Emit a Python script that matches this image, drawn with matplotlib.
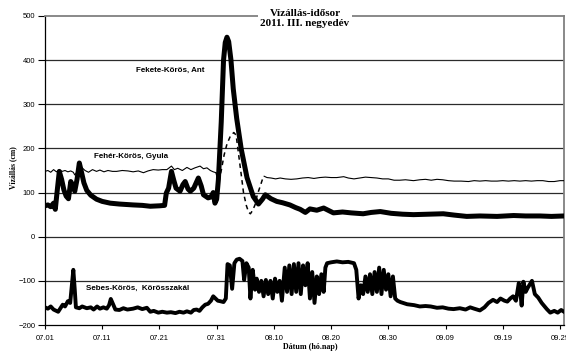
import matplotlib
matplotlib.use("Agg")
import numpy as np
import matplotlib.pyplot as plt

# x values are days since 07.01
tick_days = [0, 10, 20, 30, 40, 50, 60, 70, 80, 90]
tick_labels = ["07.01", "07.11", "07.21", "07.31", "08.10", "08.20", "08.30", "09.09", "09.19", "09.29"]

# Fekete-Körös, Ant
fekete_days = [0, 0.5, 1.0, 1.5, 1.8, 2.1, 2.5, 2.9, 3.3, 3.7, 4.1, 4.5, 4.8, 5.2, 5.6, 6.0, 6.4, 6.8,
               7.3, 8.0, 9.0, 10.0, 11.4, 13, 15.4, 17, 18.4, 20, 20.9, 21.2, 21.6, 22.1, 22.5, 22.9,
               23.6, 24.1, 24.5, 25.0, 25.4, 26.0, 26.8, 27.3, 27.7, 28.5, 29.0, 29.4, 29.7, 30.0,
               30.3, 30.8, 31.2, 31.5, 31.8, 32.1, 32.5, 32.9, 33.5, 34.3, 35.3, 36.4, 37.3, 38.0,
               38.5, 39.5, 40.5, 41.5, 42.8, 43.8, 44.6, 45.5, 46.3, 47.5, 48.7, 50.4, 52, 53.5,
               55.6, 57, 58.6, 60.5, 62.5, 64.4, 67, 69.6, 71.5, 73.7, 76, 79, 81.9, 84, 86.5,
               88.5, 90.7]
fekete_cm = [70, 72, 68, 76, 62, 100, 148, 130, 106, 92, 86, 125, 118, 103, 130, 167, 145, 122,
             105, 94, 85, 80, 76, 74, 72, 71, 69, 70, 71, 99, 110, 148, 128, 110,
             103, 118, 125, 108, 103, 110, 133, 115, 95, 88, 90, 100, 76, 85,
             129, 260, 400, 440, 452, 442, 400, 335, 268, 198, 134, 91, 74, 85,
             95, 86, 80, 77, 72, 66, 62, 55, 63, 60, 65, 54, 56, 54,
             52, 55, 57, 53, 51, 50, 51, 52, 49, 46, 47, 46, 48, 47, 47,
             46, 47]

# Fehér-Körös, Gyula (solid parts, gap filled by the dashed part)
feher_days = [0, 0.5, 1.0, 1.5, 2.0, 2.5, 3.0, 3.5, 4.0, 4.5, 4.95, 5.2, 5.7, 6.4, 7.0, 7.6, 8.3,
              9.0, 9.6, 10.3, 11.0, 11.8, 12.5, 13.5, 14.5, 15.4, 16.3, 17.2, 18.0, 18.9, 19.8,
              20.5, 21.3, 22.1, 22.6, 23.2, 24.0, 24.8, 25.5, 26.2, 27.1, 27.7, 28.3, 28.9, 29.4,
              29.9, np.nan, 38.3, 38.8, 39.5, 40.3, 41.1, 42, 43, 44, 45, 46, 47, 48, 49, 50, 51,
              52.2, 53, 54, 55, 56, 57, 58, 59, 60, 61, 62, 63, 64.4, 65.5, 66.5, 67.5, 68.5,
              69.5, 70.5, 71.5, 72.7, 74, 75, 76, 77, 78, 79, 80, 81, 82, 83, 84, 85, 86, 87,
              88, 89, 90, 90.7]
feher_cm = [148, 150, 146, 152, 147, 151, 148, 150, 147, 149, 146, 140, 148, 157, 150, 146, 152,
            148, 151, 147, 150, 148, 148, 150, 149, 147, 149, 145, 149, 152, 151,
            152, 152, 160, 152, 155, 150, 157, 152, 156, 160, 154, 156, 150, 147,
            145, np.nan, 137, 134, 133, 131, 133, 131, 130, 131, 133, 134, 132, 134, 135, 134, 134,
            136, 133, 131, 133, 135, 134, 133, 131, 131, 128, 128, 129, 127, 129, 130, 128, 130,
            129, 127, 126, 126, 125, 127, 126, 127, 126, 126, 127, 126, 127, 126, 127, 126, 127, 127,
            125, 125, 127, 127]
feher_gap_days = [29.9, 30.1, 30.4, 30.8, 31.3, 31.8, 32.4, 33.0, 33.4, 33.9, 34.3, 34.7, 35.2,
                  35.6, 35.9, 36.3, 36.7, 37.1, 37.6, 38.0, 38.3]
feher_gap_cm = [145, 135, 126, 150, 185, 210, 228, 236, 230, 180, 140, 99, 70,
                55, 52, 60, 72, 95, 114, 130, 137]

# Sebes-Körös, Körösszakál
sebes_days = [0, 0.5, 1.0, 1.5, 2.0, 2.3, 2.7, 3.1, 3.5, 4.0, 4.4, 4.7, 4.95, 5.2, 5.4, 6, 6.5,
              7.3, 8, 8.5, 9.1, 9.6, 10.2, 10.8, 11.2, 11.5, 11.8, 12.3, 13, 13.7, 14.4, 15.4,
              16.2, 17, 17.8, 18.4, 19, 19.8, 20.5, 21.3, 22, 22.8, 23.5, 24.2, 24.8, 25.5, 26,
              26.5, 27, 27.5, 28, 28.5, 29, 29.4, 29.8, 30.2, 30.6, 31.2, 31.6, 31.9, 32.3, 32.7,
              33.1, 33.5, 34.0, 34.5, 34.8, 35.2, 35.6, 35.9, 36.3, 36.7, 37.0, 37.4, 37.8, 38.2,
              38.6, 39.0, 39.4, 39.8, 40.2, 40.6, 41.0, 41.4, 41.9, 42.3, 42.7, 43.1, 43.5, 43.9,
              44.3, 44.7, 45.1, 45.5, 45.9, 46.3, 46.7, 47.1, 47.5, 47.9, 48.3, 48.7, 49.0, 49.3,
              50, 51, 52, 53, 54, 54.4, 54.8, 55.2, 55.6, 56.0, 56.4, 56.8, 57.2, 57.6, 58.0,
              58.4, 58.8, 59.2, 59.6, 60.0, 60.4, 60.8, 61.2, 61.6, 62.1, 63.3, 64.5, 65.5, 66.5,
              67.4, 68.5, 69.5, 70.5, 71.4, 72.5, 73.5, 74.3, 75, 76, 76.8, 77.5, 78.3, 79, 79.6,
              80.3, 80.8, 81.3, 81.8, 82.3, 82.8, 83.1, 83.3, 83.6, 84, 84.4, 85.1, 85.6, 86.2,
              86.8, 87.7, 88.3, 89, 89.6, 90.2, 90.7]
sebes_cm = [-160, -163, -158, -165, -168, -170, -162, -154, -158, -146, -150, -110, -75, -120, -160,
            -162, -158, -162, -160, -165, -158, -163, -160, -163, -155, -141, -150, -165, -166,
            -162, -165, -163, -160, -164, -161, -170, -168, -172, -170, -172, -171, -173, -170,
            -172, -169, -172, -166, -165, -168, -160, -154, -152, -145, -135, -140, -145, -146,
            -148, -140, -62, -65, -118, -60, -52, -50, -55, -98, -60, -70, -140, -75, -120, -95,
            -125, -100, -135, -98, -130, -100, -140, -95, -125, -100, -145, -70, -125, -65, -130,
            -62, -125, -60, -130, -65, -110, -60, -140, -80, -150, -90, -130, -85, -125, -70,
            -60, -58, -56, -58, -57, -60, -75, -140, -110, -130, -90, -125, -85, -130, -80,
            -125, -70, -130, -75, -120, -85, -135, -90, -140, -145, -148, -153, -155, -158,
            -157, -158, -161, -160, -163, -164, -162, -165, -160, -163, -167, -160, -150, -143,
            -148, -140, -145, -147, -140, -135, -145, -105, -130, -156, -102, -125, -115, -100,
            -130, -138, -150, -164, -172, -168, -172, -166, -170]

plt.rcParams["font.family"] = ["Liberation Sans", "DejaVu Sans"]

fig = plt.figure(figsize=(5.66, 3.52), dpi=100)
ax = fig.add_axes([45 / 566, 1 - 325 / 352, 519 / 566, 309 / 352])

ax.set_xlim(0, 90.7)
ax.set_ylim(-200, 500)
ax.set_yticks(range(-200, 501, 100))
ax.set_xticks(tick_days)
ax.set_xticklabels(tick_labels)
ax.tick_params(axis="both", labelsize=5.5, direction="out", width=0.8, color="black")
ax.tick_params(axis="y", length=5, pad=2)
ax.tick_params(axis="x", length=3, pad=4)

for val in range(-100, 500, 100):
    ax.axhline(val, color="#2b2b2b", linewidth=0.9, zorder=1)

for side in ["top", "right"]:
    ax.spines[side].set_color("#808080")
    ax.spines[side].set_linewidth(1.3)
for side in ["left", "bottom"]:
    ax.spines[side].set_color("black")
    ax.spines[side].set_linewidth(0.9)

ax.plot(feher_days, feher_cm, color="black", linewidth=0.8, zorder=3)
ax.plot(feher_gap_days, feher_gap_cm, color="black", linewidth=1.1,
        linestyle=(0, (3, 2.5)), zorder=3)
ax.plot(fekete_days, fekete_cm, color="black", linewidth=3.6,
        solid_joinstyle="round", zorder=4)
ax.plot(sebes_days, sebes_cm, color="black", linewidth=2.8,
        solid_joinstyle="round", zorder=4)

label_font = dict(fontsize=5.8, fontweight="bold", ha="center", va="center")
ax.text(21.9, 378, "Fekete-Körös, Ant", **label_font)
ax.text(15.0, 181, "Fehér-Körös, Gyula", **label_font)
ax.text(16.1, -118, "Sebes-Körös,  Körösszakál", **label_font)

serif = ["Liberation Serif", "DejaVu Serif"]
fig.text(305 / 566, 1 - 9 / 352, "Vízállás-idősor\n2011. III. negyedév",
         family=serif, fontsize=8, fontweight="bold", ha="center", va="top",
         linespacing=1.15, zorder=10,
         bbox=dict(facecolor="white", edgecolor="none", pad=2))
fig.text(310 / 566, 1 - 347 / 352, "Dátum (hó.nap)", family=serif, fontsize=5.8,
         fontweight="bold", ha="center", va="center")
fig.text(13 / 566, 1 - 168 / 352, "Vízállás (cm)", family=serif, fontsize=5.5,
         fontweight="bold", ha="center", va="center", rotation=90)

fig.savefig("out.png", dpi=100)
